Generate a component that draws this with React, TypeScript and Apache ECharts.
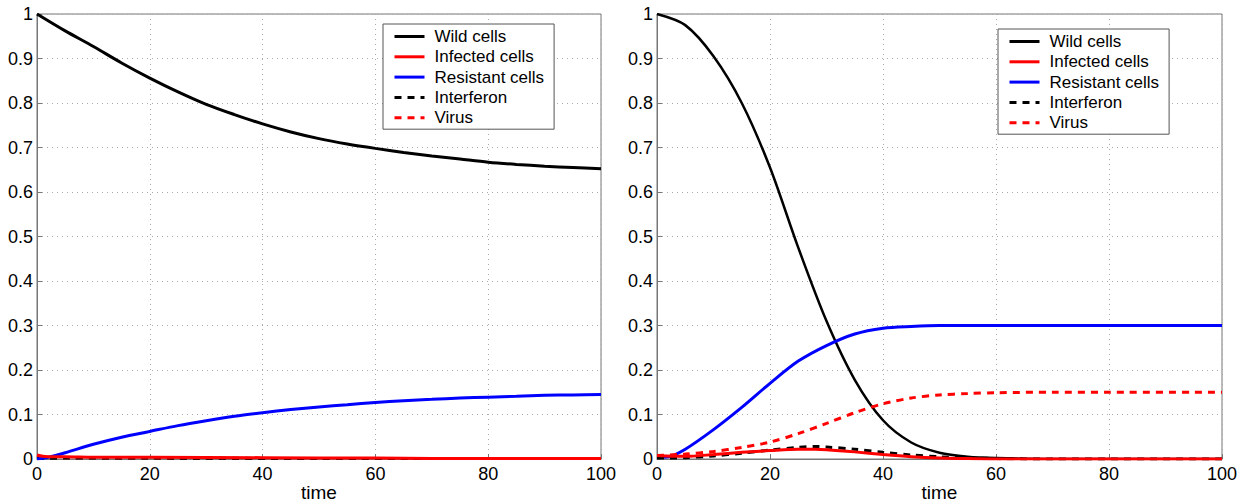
import React, { useEffect, useRef } from "react";
import * as echarts from "echarts";

const seriesNames = ["Wild cells", "Infected cells", "Resistant cells", "Interferon", "Virus"];
const yTicks = [0, 0.1, 0.2, 0.3, 0.4, 0.5, 0.6, 0.7, 0.8, 0.9, 1];

// Left panel
const leftWildT = [0, 5, 10, 15, 20, 25, 30, 35, 40, 45, 50, 55, 60, 65, 70, 75, 80, 85, 90, 95, 100];
const leftWild = [1, 0.962, 0.927, 0.89, 0.856, 0.825, 0.797, 0.774, 0.753, 0.735, 0.72, 0.708, 0.698, 0.689, 0.681, 0.674, 0.667, 0.662, 0.658, 0.655, 0.652];
const leftResT = [0, 2, 5, 10, 15, 20, 25, 30, 35, 40, 45, 50, 55, 60, 65, 70, 75, 80, 85, 90, 95, 100];
const leftRes = [0.0, 0.004, 0.014, 0.033, 0.049, 0.062, 0.075, 0.086, 0.096, 0.104, 0.111, 0.117, 0.122, 0.127, 0.131, 0.134, 0.137, 0.139, 0.141, 0.143, 0.144, 0.145];
const leftInfT = [0, 1, 2, 5, 10, 20, 40, 60, 80, 100];
const leftInf = [0.009, 0.006, 0.005, 0.005, 0.004, 0.004, 0.003, 0.002, 0.001, 0.001];
const leftIfnT = [0, 5, 20, 50, 100];
const leftIfn = [0.001, 0.002, 0.002, 0.001, 0.001];
const leftVirT = [0, 5, 20, 50, 100];
const leftVir = [0.004, 0.003, 0.002, 0.001, 0.001];

// Right panel
const rightWildT = [0, 5, 10, 15, 20, 25, 30, 35, 40, 45, 50, 55, 60, 70, 80, 100];
const rightWild = [1, 0.975, 0.905, 0.8, 0.655, 0.475, 0.31, 0.178, 0.087, 0.037, 0.014, 0.005, 0.002, 0, 0, 0];
const rightResT = [0, 2, 5, 10, 15, 20, 25, 30, 35, 40, 45, 50, 60, 80, 100];
const rightRes = [0.004, 0.005, 0.022, 0.066, 0.116, 0.17, 0.22, 0.255, 0.281, 0.294, 0.298, 0.3, 0.3, 0.3, 0.3];
const rightInfT = [0, 5, 10, 15, 20, 25, 28, 30, 35, 40, 45, 50, 55, 60, 80, 100];
const rightInf = [0.008, 0.006, 0.01, 0.015, 0.019, 0.022, 0.022, 0.021, 0.016, 0.01, 0.005, 0.002, 0.001, 0, 0, 0];
const rightIfnT = [0, 5, 10, 15, 20, 25, 28, 30, 35, 40, 45, 50, 55, 60, 70, 100];
const rightIfn = [0.002, 0.003, 0.007, 0.013, 0.02, 0.026, 0.028, 0.027, 0.022, 0.015, 0.009, 0.005, 0.003, 0.001, 0, 0];
const rightVirT = [0, 5, 10, 15, 20, 25, 30, 35, 40, 45, 50, 55, 60, 70, 80, 100];
const rightVir = [0.008, 0.011, 0.017, 0.026, 0.038, 0.057, 0.08, 0.104, 0.124, 0.137, 0.144, 0.147, 0.149, 0.15, 0.15, 0.15];

const pair = (t: number[], v: number[]) => t.map((x, i) => [x, v[i]]);

const FONT = "Liberation Sans, Arial, Helvetica, sans-serif";

export default function App() {
  const ref = useRef<HTMLDivElement>(null);
  useEffect(() => {
    if (!ref.current) return;
    const chart = echarts.init(ref.current, undefined, { renderer: "svg" });
    const grids = [
      { left: 37, top: 14, width: 564, height: 445 },
      { left: 657, top: 14, width: 565, height: 445 },
    ];
    const xAxis = [0, 1].map((i) => ({
      type: "value",
      gridIndex: i,
      min: 0,
      max: 100,
      interval: 20,
      name: "time",
      nameLocation: "middle",
      nameGap: 24,
      nameMoveOverlap: false,
      nameTextStyle: { color: "#000", fontSize: 19, lineHeight: 19, fontFamily: FONT },
      axisLine: { show: true, lineStyle: { color: "#777", width: 1 } },
      axisTick: { show: true, inside: true, length: 5, lineStyle: { color: "#777" } },
      axisLabel: { color: "#000", fontSize: 18, fontFamily: FONT, margin: 6 },
      splitLine: { show: true, lineStyle: { color: "#aaa", type: [1, 4], width: 1 } },
    }));
    const yAxis = [0, 1].map((i) => ({
      type: "value",
      gridIndex: i,
      min: 0,
      max: 1,
      interval: 0.1,
      axisLine: { show: true, lineStyle: { color: "#777", width: 1 } },
      axisTick: { show: true, inside: true, length: 5, lineStyle: { color: "#777" } },
      axisLabel: {
        color: "#000",
        fontSize: 18,
        fontFamily: FONT,
        margin: 4,
        formatter: (v: number) => {
          const r = Math.round(v * 10) / 10;
          return yTicks.includes(r) ? String(r) : "";
        },
      },
      splitLine: { show: true, lineStyle: { color: "#aaa", type: [1, 4], width: 1 } },
    }));
    const mk = (name: string, idx: number, data: number[][], color: string, dashed: boolean, width: number) => ({
      name,
      type: "line",
      xAxisIndex: idx,
      yAxisIndex: idx,
      data,
      smooth: 0.3,
      showSymbol: false,
      symbol: "none",
      lineStyle: { color, width, type: dashed ? [7, 6] : "solid" },
      itemStyle: { color },
    });
    const series = [
      mk("Virus", 0, pair(leftVirT, leftVir), "#ff0000", true, 3),
      mk("Interferon", 0, pair(leftIfnT, leftIfn), "#000000", true, 3),
      mk("Resistant cells", 0, pair(leftResT, leftRes), "#0000ff", false, 3),
      mk("Wild cells", 0, pair(leftWildT, leftWild), "#000000", false, 3),
      mk("Infected cells", 0, pair(leftInfT, leftInf), "#ff0000", false, 3),
      mk("Wild cells", 1, pair(rightWildT, rightWild), "#000000", false, 2.5),
      mk("Resistant cells", 1, pair(rightResT, rightRes), "#0000ff", false, 3),
      mk("Virus", 1, pair(rightVirT, rightVir), "#ff0000", true, 3),
      mk("Interferon", 1, pair(rightIfnT, rightIfn), "#000000", true, 3),
      mk("Infected cells", 1, pair(rightInfT, rightInf), "#ff0000", false, 3),
    ];
    const legend = (left: number, top: number) => ({
      data: seriesNames,
      orient: "vertical",
      left,
      top,
      width: 172,
      itemWidth: 30,
      itemHeight: 14,
      itemGap: 3.3,
      padding: [4, 10, 3, 10],
      backgroundColor: "#fff",
      borderColor: "#555",
      borderWidth: 1,
      borderRadius: 0,
      selectedMode: false,
      itemStyle: { opacity: 0 },
      lineStyle: { width: 3 },
      textStyle: { color: "#000", fontSize: 17, fontFamily: FONT, padding: [0, 0, 0, 5] },
    });
    chart.setOption({
      animation: false,
      backgroundColor: "#fff",
      grid: grids.map((g) => ({
        ...g,
        show: true,
        borderColor: "#777",
        borderWidth: 1,
        backgroundColor: "transparent",
        containLabel: false,
        outerBoundsMode: "none",
      })),
      xAxis,
      yAxis,
      legend: [legend(383, 24), legend(998, 29)],
      series,
    });
    return () => chart.dispose();
  }, []);
  return <div ref={ref} style={{ position: "absolute", left: 0, top: 0, width: 1250, height: 504 }} />;
}
